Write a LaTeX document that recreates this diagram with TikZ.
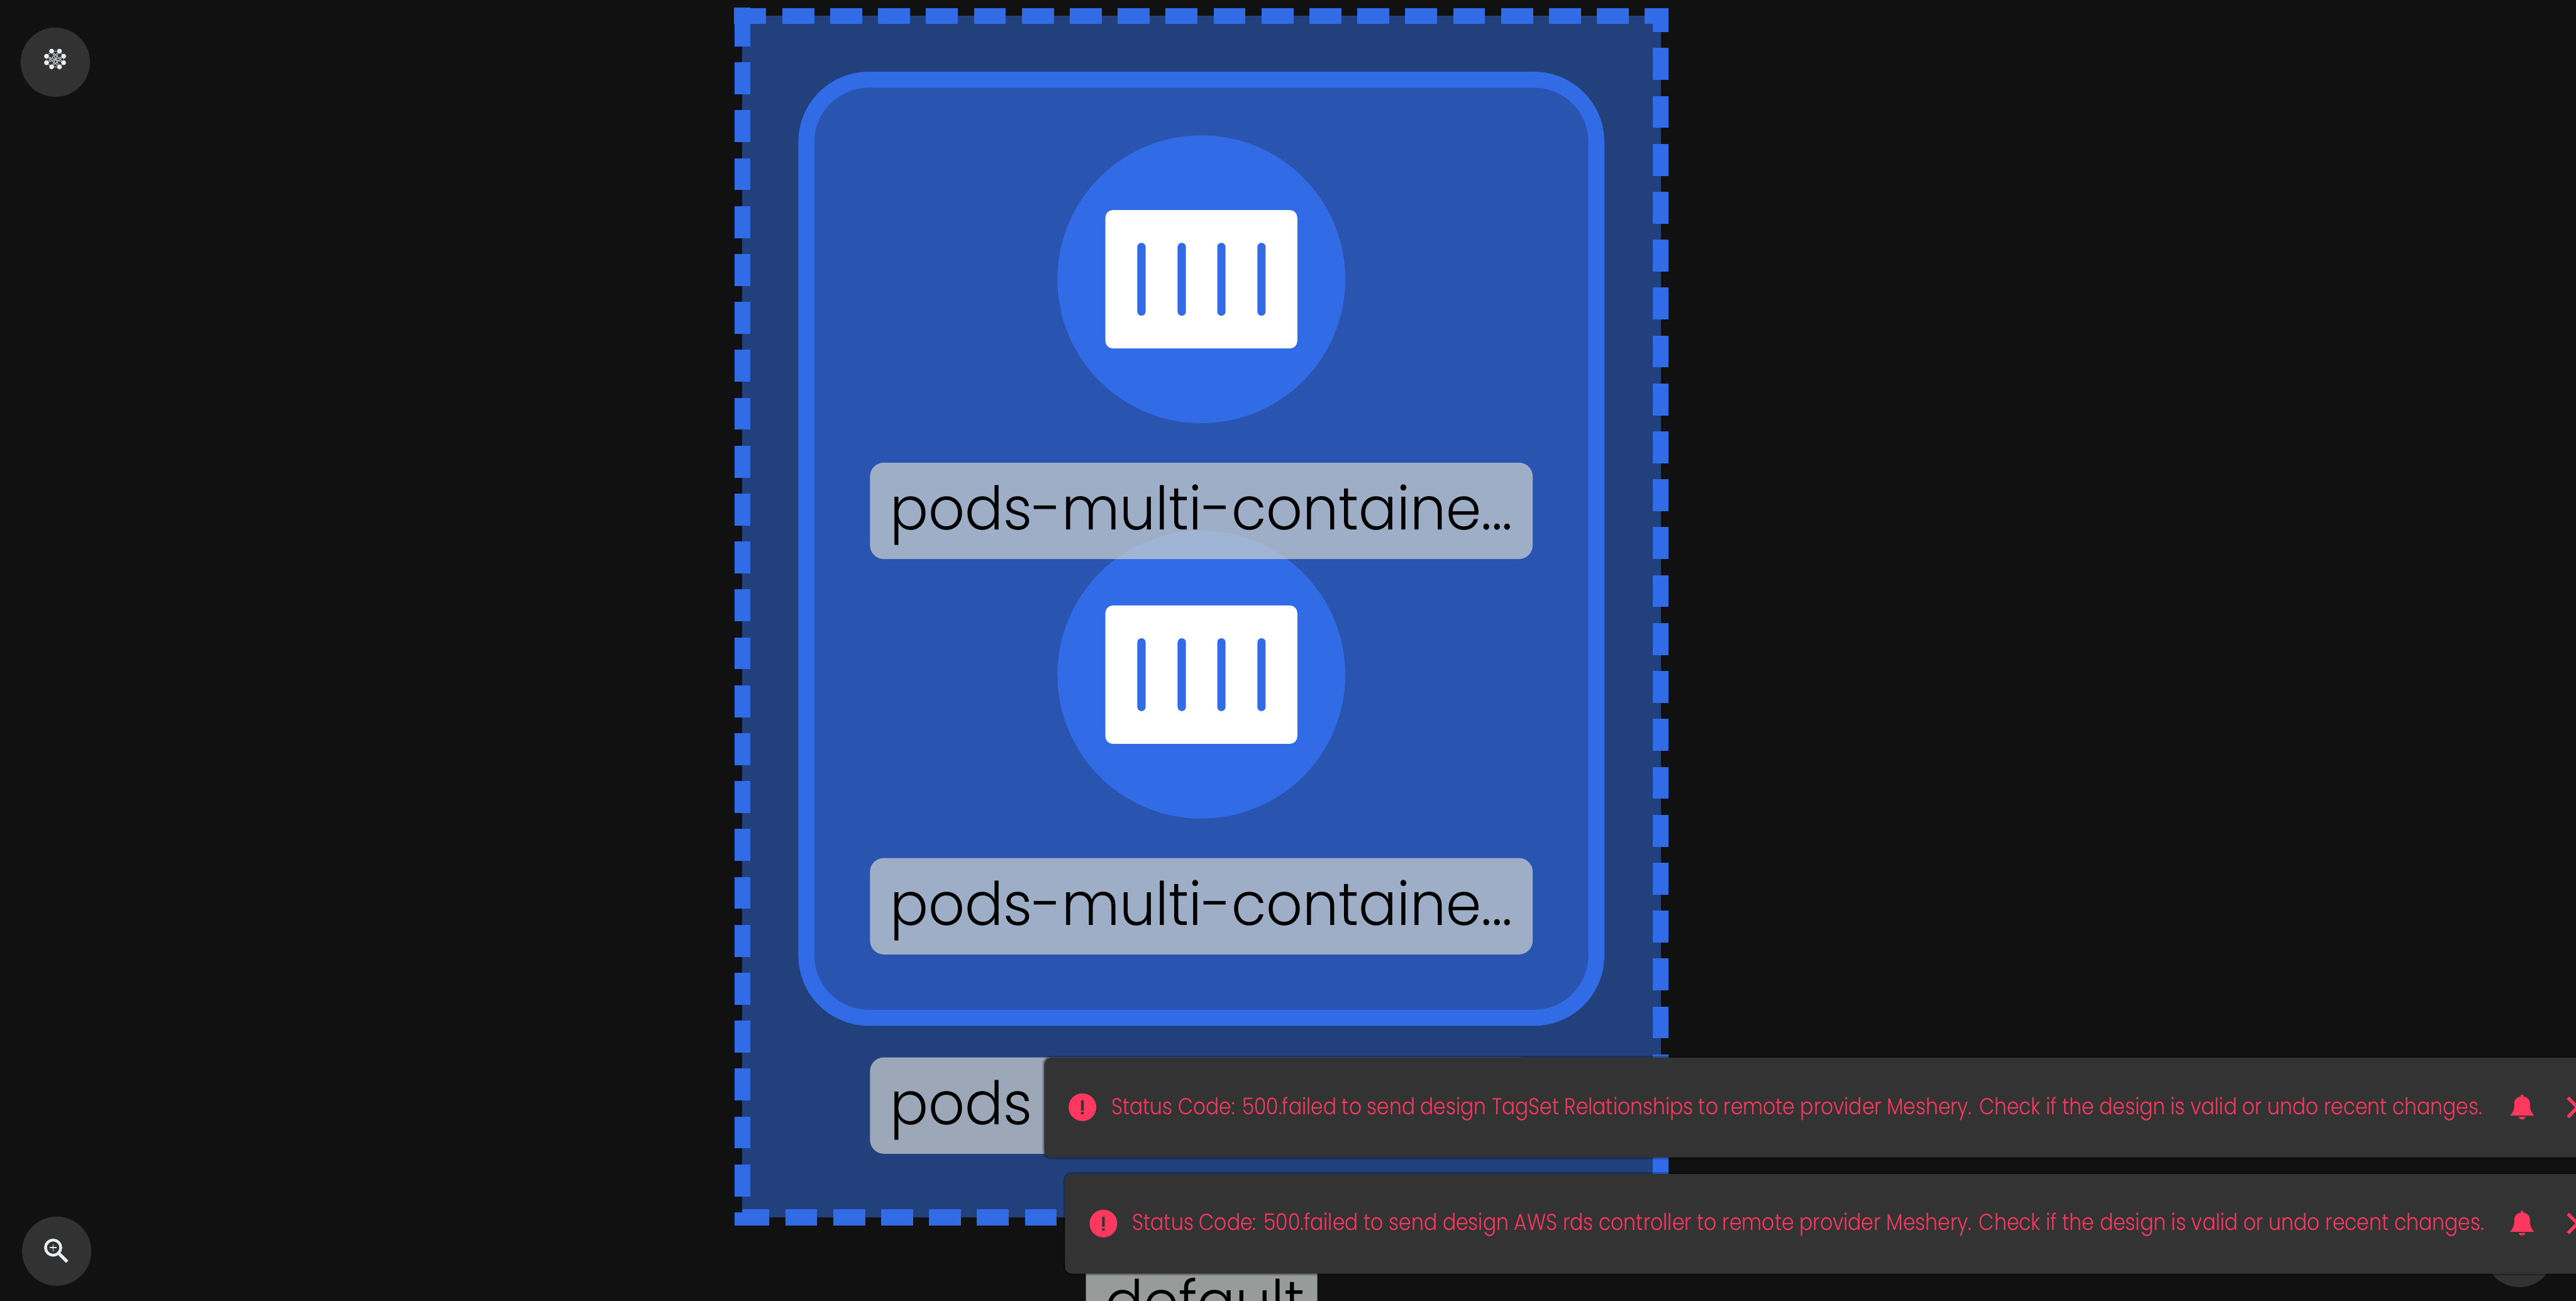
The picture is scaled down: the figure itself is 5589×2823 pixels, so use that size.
\documentclass[tikz,border=0pt]{standalone}
\usepackage{fontspec}
\setmainfont{Poppins}[UprightFont=* Light]
\usetikzlibrary{positioning}
\definecolor{canvasbg}{HTML}{111111}
\definecolor{nsfill}{HTML}{22407C}
\definecolor{podblue}{HTML}{316BE6}
\definecolor{depfill}{HTML}{2954AF}
\definecolor{labelgray}{HTML}{CCD1D0}
\definecolor{btngray}{HTML}{323232}
\definecolor{iconwhite}{HTML}{E8EFF3}
\definecolor{toastgray}{HTML}{333333}
\definecolor{rose}{HTML}{FF3860}

\begin{document}
\begin{tikzpicture}[
                x=0.01cm,
                y=-0.01cm,
                podcircle/.style={
                        circle,
                        fill=podblue,
                        minimum size=6.24cm,
                        inner sep=0pt
                    },
                podcard/.style={
                        fill=white,
                        rounded corners=0.16cm,
                        minimum width=4.16cm,
                        minimum height=3cm,
                        inner sep=0pt
                    },
                podbar/.style={
                        fill=podblue,
                        rounded corners=0.09cm,
                        minimum width=0.18cm,
                        minimum height=1.58cm,
                        inner sep=0pt
                    },
                labelbox/.style={
                        fill=labelgray,
                        fill opacity=0.72,
                        rounded corners=0.3cm,
                        minimum width=14.37cm,
                        minimum height=2.09cm,
                        inner sep=0pt
                    },
                labeltext/.style={
                        anchor=base west,
                        inner sep=0pt,
                        font=\fontsize{37}{44}\selectfont\addfontfeature{FakeStretch=0.947}
                    },
                sidebtn/.style={
                        circle,
                        fill=btngray,
                        minimum size=1.5cm,
                        inner sep=0pt
                    },
                meshdot/.style={
                        circle,
                        fill=iconwhite,
                        minimum size=0.107cm,
                        inner sep=0pt
                    },
                toast/.style={
                        fill=toastgray,
                        rounded corners=0.14cm,
                        minimum height=2.16cm,
                        inner sep=0pt,
                        preaction={draw=black, draw opacity=0.25, line width=0.08cm}
                    },
                toasttext/.style={
                        anchor=base west,
                        inner sep=0pt,
                        text=rose,
                        font=\fontsize{14.2}{17}\selectfont\addfontfeature{FakeStretch=0.86}
                    },
                alertdot/.style={
                        circle,
                        fill=rose,
                        minimum size=0.6cm,
                        inner sep=0pt
                    },
                bellicon/.pic={
                        \fill[rose] (0,2) circle[radius=3];
                        \fill[rose] (-26,44.7) .. controls (-16,34) and (-17,25) .. (-17,18)
                            .. controls (-17,9) and (-9,3) .. (0,3)
                            .. controls (9,3) and (17,9) .. (17,18)
                            .. controls (17,25) and (16,34) .. (26,44.7) -- cycle;
                        \fill[rose] (-7.5,47.6) .. controls (-6,55) and (6,55) .. (7.5,47.6) -- cycle;
                    }
            ]

            \useasboundingbox (0,0) rectangle (5589,2823);
            \clip (0,0) rectangle (5589,2823);
            \fill[canvasbg] (0,0) rectangle (5589,2823);

            % Namespace
            \fill[nsfill] (1610.5,34.5) rectangle (3603,2641.5);
            \draw[podblue, line width=0.3464cm, dash pattern=on 0.6928cm off 0.3464cm, dash phase=0.173cm]
                (1610.5,34.5) -- (3603,34.5) -- (3603,2641.5) -- (1610.5,2641.5) -- cycle;
            \fill[podblue] (1593,17) rectangle (1628,52);

            % Deployment
            \draw[podblue, fill=depfill, line width=0.3464cm, rounded corners=1.35cm]
                (1749.5,173) rectangle (3463.5,2208.5);

            % First pod
            \node[podcircle] (podA) at (2606.5,606) {};
            \node[podcard] (cardA) at (2606.5,606) {};
            \node[podbar] (barA1) at (2476.5,606) {};
            \node[podbar] (barA2) at (2564,606) {};
            \node[podbar] (barA3) at (2650,606) {};
            \node[podbar] (barA4) at (2737,606) {};

            % Second pod
            \node[podcircle] (podB) at (2606.5,1464) {};
            \node[podcard] (cardB) at (2606.5,1464) {};
            \node[podbar] (barB1) at (2476.5,1464) {};
            \node[podbar] (barB2) at (2564,1464) {};
            \node[podbar] (barB3) at (2650,1464) {};
            \node[podbar] (barB4) at (2737,1464) {};

            % Labels
            \node[labelbox] (boxA) at (2606.5,1108.5) {};
            \node[labeltext] (textA) at (1931,1150) {pods-multi-containe...};
            \node[labelbox] (boxB) at (2606.5,1966.5) {};
            \node[labeltext] (textB) at (1931,2008) {pods-multi-containe...};
            \node[labelbox] (boxC) at (2606.5,2399) {};
            \node[labeltext] (textC) at (1931,2441) {pods};
            \node[labelbox, minimum width=5.02cm] (boxD) at (2607,2830.5) {};
            \node[labeltext] (textD) at (2397,2872) {default};

            % Side buttons
            \node[sidebtn] (meshBtn) at (120,135) {};
            \node[sidebtn] (zoomBtn) at (123,2715) {};
            \node[sidebtn] (cornerBtn) at (5466,2718) {};

            % Mesh icon
            \node[meshdot] (dotA) at (112,111) {};
            \node[meshdot] (dotB) at (129,111) {};
            \node[meshdot] (dotC) at (138,122) {};
            \node[meshdot] (dotD) at (138,136) {};
            \node[meshdot] (dotE) at (129,145) {};
            \node[meshdot] (dotF) at (112,145) {};
            \node[meshdot] (dotG) at (101,136) {};
            \node[meshdot] (dotH) at (101,122) {};
            \draw[iconwhite!80!black, line width=0.016cm]
                (dotA) -- (dotB) -- (dotC) -- (dotD) -- (dotE) -- (dotF) -- (dotG) -- (dotH) -- (dotA)
                (dotA) -- (dotE) (dotB) -- (dotF) (dotC) -- (dotG) (dotD) -- (dotH)
                (dotA) -- (dotD) (dotB) -- (dotG) (dotC) -- (dotF) (dotE) -- (dotH);

            % Zoom icon
            \node[circle, draw=iconwhite, line width=0.06cm, minimum size=0.33cm, inner sep=0pt] (lens) at (115.3,2707.3) {};
            \coordinate (handleEnd) at (145.7,2738);
            \draw[iconwhite, line width=0.07cm] (lens) -- (handleEnd);
            \draw[iconwhite, line width=0.025cm] (107.8,2707.3) -- (122.8,2707.3) (115.3,2699.8) -- (115.3,2714.8);

            % Toasts
            \node[toast, anchor=north west, minimum width=35cm] (toastA) at (2265,2294.6) {};
            \node[alertdot] (alertA) at (2348.5,2402.6) {};
            \fill[toastgray] (2345.5,2388) rectangle (2351.5,2410) (2345.5,2413) rectangle (2351.5,2418);
            \node[toasttext, font=\fontsize{14.2}{17}\selectfont\addfontfeature{FakeStretch=0.856}] (msgA) at (2411,2418) {Status Code: 500.failed to send design TagSet Relationships to remote provider Meshery. Check if the design is valid or undo recent changes.};
            \pic at (5472,2376) {bellicon};
            \draw[rose, line width=0.07cm] (5571.5,2382) -- (5613,2424) (5571.5,2424) -- (5613,2382);

            \node[toast, anchor=north west, minimum width=35cm] (toastB) at (2310,2547) {};
            \node[alertdot] (alertB) at (2394,2655) {};
            \fill[toastgray] (2391,2640.4) rectangle (2397,2662.4) (2391,2665.4) rectangle (2397,2670.4);
            \node[toasttext] (msgB) at (2456,2670) {Status Code: 500.failed to send design AWS rds controller to remote provider Meshery. Check if the design is valid or undo recent changes.};
            \pic at (5472,2628) {bellicon};
            \draw[rose, line width=0.07cm] (5571.5,2634) -- (5613,2676) (5571.5,2676) -- (5613,2634);

        \end{tikzpicture}
\end{document}
